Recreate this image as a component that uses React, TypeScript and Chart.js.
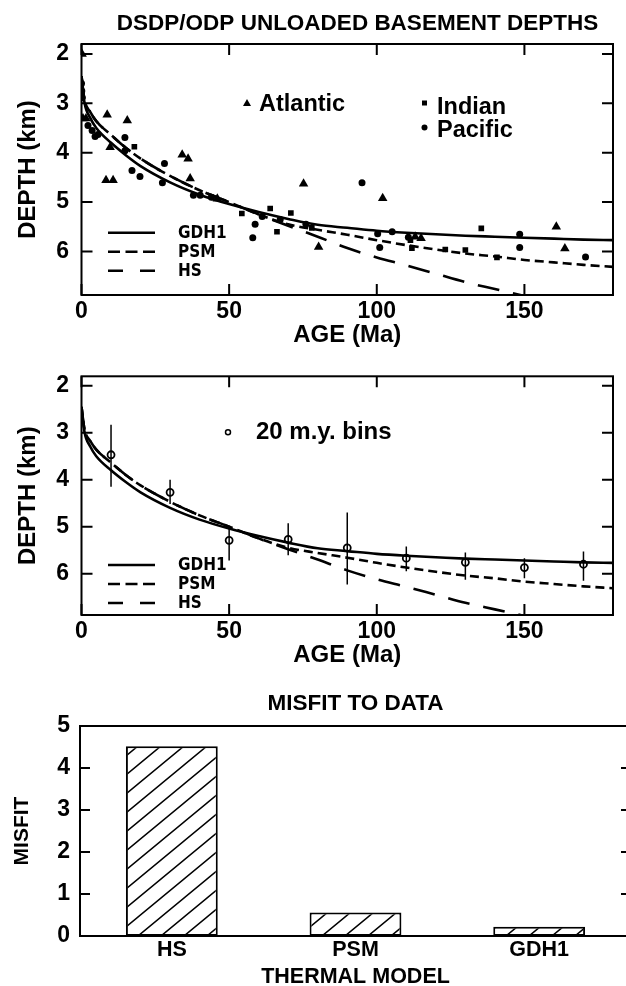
import React, { useEffect, useRef } from 'react';
import { Chart, registerables } from 'chart.js';

Chart.register(...registerables);

const SANS = '"Liberation Sans", Arial, "DejaVu Sans", sans-serif';
const COND = '"Liberation Sans Narrow", "DejaVu Sans Condensed", "DejaVu Sans", sans-serif';

// ---------------- data ----------------
const modelAges = [0, 1, 3, 5, 10, 15, 20, 30, 40, 50, 60, 70, 80, 90, 100, 110, 120, 130, 140, 150, 160, 170, 180];
const gdh1Depth = [2.45, 2.98, 3.3, 3.5, 3.8, 4.05, 4.27, 4.6, 4.85, 5.04, 5.2, 5.34, 5.46, 5.52, 5.58, 5.62, 5.65, 5.68, 5.7, 5.72, 5.74, 5.76, 5.77];
const psmDepth = [2.45, 2.92, 3.18, 3.36, 3.64, 3.9, 4.12, 4.47, 4.76, 5.0, 5.25, 5.45, 5.56, 5.66, 5.77, 5.87, 5.96, 6.04, 6.1, 6.17, 6.22, 6.27, 6.31];
const hsDepth = [2.45, 2.92, 3.18, 3.36, 3.64, 3.9, 4.12, 4.47, 4.76, 5.0, 5.25, 5.48, 5.7, 5.93, 6.12, 6.28, 6.45, 6.62, 6.76, 6.9, 7.03, null, null];

const ageTicks = [0, 50, 100, 150];
const depthTicks = [2, 3, 4, 5, 6];

const atlanticAge = [0.2, 0.5, 1.5, 8.7, 9.7, 8.3, 10.7, 15.5, 34.1, 36.1, 36.8, 46, 75.2, 80.3, 102, 113, 115, 160.8, 163.7];
const atlanticDepth = [2.0, 3.31, 3.31, 3.23, 3.89, 4.56, 4.56, 3.35, 4.04, 4.12, 4.52, 4.93, 4.63, 5.91, 4.92, 5.7, 5.73, 5.5, 5.94];

const indianAge = [17.9, 54.3, 63.9, 66.2, 70.9, 78, 111.4, 111.9, 123.2, 130, 135.4, 140.7];
const indianDepth = [3.88, 5.23, 5.13, 5.6, 5.22, 5.52, 5.77, 5.93, 5.96, 5.97, 5.53, 6.12];

const pacificAge = [0, 0.1, 0.2, 2.2, 3.6, 4.6, 5.6, 14.7, 14.7, 17.1, 19.8, 28.1, 27.4, 37.9, 40.2, 44, 58.8, 58, 61.2, 67.3, 76, 95, 100.3, 101, 105.2, 110.7, 148.4, 148.4, 170.7];
const pacificDepth = [2.6, 2.75, 2.89, 3.45, 3.55, 3.67, 3.63, 3.69, 3.96, 4.36, 4.48, 4.22, 4.61, 4.86, 4.86, 4.9, 5.45, 5.72, 5.29, 5.35, 5.45, 4.61, 5.64, 5.92, 5.6, 5.71, 5.65, 5.92, 6.11];

const binAge = [10, 30, 50, 70, 90, 110, 130, 150, 170];
const binDepth = [3.47, 4.27, 5.29, 5.27, 5.45, 5.67, 5.76, 5.87, 5.8];
const binTop = [2.83, 4.0, 5.02, 4.93, 4.7, 5.42, 5.55, 5.67, 5.53];
const binBottom = [4.15, 4.52, 5.72, 5.61, 6.23, 5.95, 6.13, 6.1, 6.15];

const modelNames = ['HS', 'PSM', 'GDH1'];
const misfitValues = [4.52, 0.56, 0.22];
const misfitTicks = [0, 1, 2, 3, 4, 5];
const misfitMarks = [1, 2, 3, 4];

const curveLegend = ['GDH1', 'PSM', 'HS'];

// ---------------- helpers ----------------
const zip = (xs: number[], ys: (number | null)[]) => xs.map((x, i) => ({ x, y: ys[i] }));

const curveDash: Record<string, number[]> = { GDH1: [], PSM: [9, 5], HS: [22, 14] };
const legendDash: Record<string, number[]> = { GDH1: [], PSM: [12, 5.5], HS: [15, 17] };

function curveDatasets() {
  const ys: Record<string, (number | null)[]> = { GDH1: gdh1Depth, PSM: psmDepth, HS: hsDepth };
  return curveLegend.map((name) => ({
    label: name,
    data: zip(modelAges, ys[name]),
    showLine: true,
    borderColor: '#000',
    backgroundColor: '#000',
    borderWidth: 2.6,
    borderDash: curveDash[name],
    pointRadius: 0,
    cubicInterpolationMode: 'monotone' as const,
    fill: false,
  }));
}

function framePlugin(xTicks: number[], yTicks: number[], tickLen: number) {
  return {
    id: 'frame',
    afterDatasetsDraw(chart: any) {
      const { ctx, chartArea: a, scales } = chart;
      ctx.save();
      ctx.strokeStyle = '#000';
      ctx.lineWidth = 2;
      ctx.setLineDash([]);
      ctx.strokeRect(a.left, a.top, a.right - a.left, a.bottom - a.top);
      ctx.beginPath();
      yTicks.forEach((v) => {
        const y = scales.y.getPixelForValue(v);
        ctx.moveTo(a.left, y);
        ctx.lineTo(a.left + tickLen, y);
        ctx.moveTo(a.right, y);
        ctx.lineTo(a.right - tickLen, y);
      });
      xTicks.forEach((v) => {
        const x = scales.x.getPixelForValue(v);
        ctx.moveTo(x, a.top);
        ctx.lineTo(x, a.top + tickLen);
        ctx.moveTo(x, a.bottom);
        ctx.lineTo(x, a.bottom - tickLen);
      });
      ctx.stroke();
      ctx.restore();
    },
  };
}

function notesPlugin(draw: (ctx: CanvasRenderingContext2D, a: any) => void) {
  return {
    id: 'notes',
    afterDraw(chart: any) {
      const ctx = chart.ctx as CanvasRenderingContext2D;
      ctx.save();
      ctx.fillStyle = '#000';
      ctx.strokeStyle = '#000';
      ctx.textBaseline = 'middle';
      draw(ctx, chart.chartArea);
      ctx.restore();
    },
  };
}

function drawCurveLegend(ctx: CanvasRenderingContext2D, a: any) {
  curveLegend.forEach((name, i) => {
    const y = a.top + 188.7 + i * 19;
    ctx.beginPath();
    ctx.setLineDash(legendDash[name]);
    ctx.lineWidth = 2.6;
    ctx.moveTo(108, y);
    ctx.lineTo(155, y);
    ctx.stroke();
    ctx.setLineDash([]);
    ctx.font = `bold 17px ${COND}`;
    ctx.textAlign = 'left';
    ctx.fillText(name, 178, y + 0.5);
  });
}

function depthScales(canvasH: number, areaBottom: number) {
  return {
    x: {
      type: 'linear' as const,
      min: 0,
      max: 180,
      afterBuildTicks: (s: any) => {
        s.ticks = ageTicks.map((v) => ({ value: v }));
      },
      afterFit: (s: any) => {
        s.height = canvasH - areaBottom;
      },
      grid: { display: false, drawTicks: false },
      border: { display: false },
      ticks: { color: '#000', font: { family: SANS, size: 23, weight: 'bold' }, padding: 3.2, maxRotation: 0, autoSkip: false },
      title: { display: true, text: 'AGE (Ma)', color: '#000', font: { family: SANS, size: 24, weight: 'bold' }, padding: { top: 0, bottom: 0 } },
    },
    y: {
      type: 'linear' as const,
      reverse: true,
      min: 1.8,
      max: 6.88,
      afterBuildTicks: (s: any) => {
        s.ticks = depthTicks.map((v) => ({ value: v }));
      },
      afterFit: (s: any) => {
        s.width = 81.5;
      },
      grid: { display: false, drawTicks: false },
      border: { display: false },
      ticks: { color: '#000', font: { family: SANS, size: 23, weight: 'bold' }, padding: 12.5, autoSkip: false },
      title: { display: true, text: 'DEPTH (km)', color: '#000', font: { family: SANS, size: 24, weight: 'bold' }, padding: { top: 13.6, bottom: 0 } },
    },
  };
}

function makeHatch(): CanvasPattern | string {
  const w = 23, h = 19;
  const c = document.createElement('canvas');
  c.width = w;
  c.height = h;
  const g = c.getContext('2d');
  if (!g) return '#fff';
  g.fillStyle = '#fff';
  g.fillRect(0, 0, w, h);
  g.strokeStyle = '#000';
  g.lineWidth = 1.5;
  g.beginPath();
  for (const dx of [-w, 0, w]) {
    g.moveTo(dx - w, 2 * h);
    g.lineTo(dx + 2 * w, -h);
  }
  g.stroke();
  return g.createPattern(c, 'repeat') || '#fff';
}

export default function App() {
  const c1 = useRef<HTMLCanvasElement>(null);
  const c2 = useRef<HTMLCanvasElement>(null);
  const c3 = useRef<HTMLCanvasElement>(null);

  useEffect(() => {
    const charts: Chart[] = [];

    // ---- Panel 1: data ----
    if (c1.current) {
      charts.push(
        new Chart(c1.current, {
          type: 'scatter',
          data: {
            datasets: [
              ...curveDatasets(),
              { label: 'Atlantic', data: zip(atlanticAge, atlanticDepth), pointStyle: 'triangle', pointRadius: 5.5, backgroundColor: '#000', borderColor: '#000', borderWidth: 0 },
              { label: 'Indian', data: zip(indianAge, indianDepth), pointStyle: 'rect', pointRadius: 4, backgroundColor: '#000', borderColor: '#000', borderWidth: 0 },
              { label: 'Pacific', data: zip(pacificAge, pacificDepth), pointStyle: 'circle', pointRadius: 3.5, backgroundColor: '#000', borderColor: '#000', borderWidth: 0 },
            ] as any,
          },
          options: {
            animation: false,
            responsive: false,
            devicePixelRatio: 1,
            layout: { padding: { left: 0, right: 13, top: 44, bottom: 0 } },
            plugins: { legend: { display: false }, tooltip: { enabled: false }, title: { display: false } },
            scales: depthScales(350, 295) as any,
          },
          plugins: [
            framePlugin(ageTicks, depthTicks, 11),
            notesPlugin((ctx, a) => {
              ctx.font = `bold 22.5px ${SANS}`;
              ctx.textAlign = 'center';
              ctx.fillText('DSDP/ODP UNLOADED BASEMENT DEPTHS', 357.5, 23.4);
              ctx.font = `bold 23.5px ${SANS}`;
              ctx.textAlign = 'left';
              ctx.fillText('Atlantic', 259, a.top + 61);
              ctx.fillText('Indian', 437, a.top + 63.5);
              ctx.fillText('Pacific', 437, a.top + 87);
              // symbols
              const ty = a.top + 59;
              ctx.beginPath();
              ctx.moveTo(247, ty - 4);
              ctx.lineTo(251, ty + 3);
              ctx.lineTo(243, ty + 3);
              ctx.closePath();
              ctx.fill();
              ctx.fillRect(422, a.top + 56.5, 5, 5);
              ctx.beginPath();
              ctx.arc(424.5, a.top + 83.5, 3, 0, Math.PI * 2);
              ctx.fill();
              drawCurveLegend(ctx, a);
            }),
          ],
        } as any)
      );
    }

    // ---- Panel 2: 20 m.y. bins ----
    if (c2.current) {
      const errData: { x: number; y: number | null }[] = [];
      binAge.forEach((age, i) => {
        errData.push({ x: age, y: binTop[i] }, { x: age, y: binBottom[i] }, { x: age, y: null });
      });
      charts.push(
        new Chart(c2.current, {
          type: 'scatter',
          data: {
            datasets: [
              ...curveDatasets(),
              { label: 'errors', data: errData, showLine: true, spanGaps: false, borderColor: '#000', borderWidth: 1.5, pointRadius: 0, tension: 0 },
              { label: 'bins', data: zip(binAge, binDepth), pointStyle: 'circle', pointRadius: 3.5, backgroundColor: 'rgba(0,0,0,0)', borderColor: '#000', borderWidth: 1.8 },
            ] as any,
          },
          options: {
            animation: false,
            responsive: false,
            devicePixelRatio: 1,
            layout: { padding: { left: 0, right: 13, top: 14, bottom: 0 } },
            plugins: { legend: { display: false }, tooltip: { enabled: false }, title: { display: false } },
            scales: depthScales(320, 265) as any,
          },
          plugins: [
            framePlugin(ageTicks, depthTicks, 11),
            notesPlugin((ctx, a) => {
              ctx.lineWidth = 1.5;
              ctx.beginPath();
              ctx.arc(228, a.top + 56, 2.5, 0, Math.PI * 2);
              ctx.stroke();
              ctx.font = `bold 24px ${SANS}`;
              ctx.textAlign = 'left';
              ctx.fillText('20 m.y. bins', 256, a.top + 56);
              drawCurveLegend(ctx, a);
            }),
          ],
        } as any)
      );
    }

    // ---- Panel 3: misfit bars ----
    if (c3.current) {
      const hatch = makeHatch();
      charts.push(
        new Chart(c3.current, {
          type: 'bar',
          data: {
            labels: modelNames,
            datasets: [
              {
                label: 'Misfit',
                data: misfitValues,
                backgroundColor: hatch,
                borderColor: '#000',
                borderWidth: 2,
                borderSkipped: false,
                barPercentage: 0.5,
                categoryPercentage: 1,
              },
            ],
          },
          options: {
            animation: false,
            responsive: false,
            devicePixelRatio: 1,
            layout: { padding: { left: 0, right: 9, top: 0, bottom: 0 } },
            plugins: {
              legend: { display: false },
              tooltip: { enabled: false },
              title: {
                display: true,
                text: 'MISFIT TO DATA',
                fullSize: false,
                color: '#000',
                font: { family: SANS, size: 22.5, weight: 'bold' },
                padding: { top: 20.5, bottom: 8.5 },
              },
            },
            scales: {
              x: {
                grid: { display: false, drawTicks: false },
                border: { display: false },
                afterFit: (s: any) => {
                  s.height = 54;
                },
                ticks: { color: '#000', font: { family: SANS, size: 21.5, weight: 'bold' }, padding: 1.1 },
                title: { display: true, text: 'THERMAL MODEL', color: '#000', font: { family: SANS, size: 21.5, weight: 'bold' }, padding: { top: 0, bottom: 0 } },
              },
              y: {
                min: 0,
                max: 5,
                afterBuildTicks: (s: any) => {
                  s.ticks = misfitTicks.map((v) => ({ value: v }));
                },
                afterFit: (s: any) => {
                  s.width = 80;
                },
                grid: { display: false, drawTicks: false },
                border: { display: false },
                ticks: { color: '#000', font: { family: SANS, size: 23, weight: 'bold' }, padding: 10 },
                title: { display: true, text: 'MISFIT', color: '#000', font: { family: SANS, size: 21, weight: 'bold' }, padding: { top: 9.4, bottom: 0 } },
              },
            },
          },
          plugins: [framePlugin([], misfitMarks, 10)],
        } as any)
      );
    }

    return () => {
      charts.forEach((c) => c.destroy());
    };
  }, []);

  return (
    <div style={{ position: 'fixed', left: 0, top: 0, width: 626, height: 986, overflow: 'hidden', background: '#fff' }}>
      <canvas ref={c1} width={626} height={350} style={{ position: 'absolute', left: 0, top: 0 }} />
      <canvas ref={c2} width={626} height={320} style={{ position: 'absolute', left: 0, top: 350 }} />
      <canvas ref={c3} width={640} height={320} style={{ position: 'absolute', left: 0, top: 670 }} />
    </div>
  );
}
